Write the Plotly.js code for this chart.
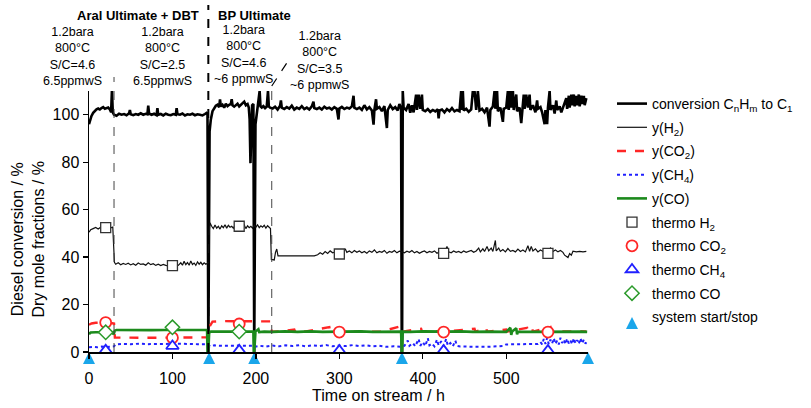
<!DOCTYPE html>
<html><head><meta charset="utf-8">
<script src="https://cdn.plot.ly/plotly-3.0.1.min.js"></script>
<style>body{margin:0;background:#fff}#c{width:811px;height:408px}</style>
</head><body><div id="c"></div>
<script>
// ---- data (time on stream / h, value / %) ----
const conversion = [[0,96],[1,97.5],[3,99.5],[5,100.8],[7,101.8],[9,102.3],[11,102.6],[13,102.2],[15,102.8],[17,103.2],[19,102.5],[21,102.8],[23,103],[25,102.2],[26.5,101],[27.5,110.5],[28.5,101],[30,100],[33,99.6],[36,100.4],[39,100],[42,100.3],[45,99.8],[48,100.6],[49,102],[50,100.2],[53,99.8],[56,100.3],[59,100],[62,100.6],[65,100],[68,100.4],[70,100.2],[71,103.8],[72,100.5],[75,100],[78,100.4],[81,99.8],[82,102.8],[83,100],[86,100.3],[89,99.7],[92,100.4],[95,100],[98,99.8],[101,100.3],[104,100],[105,102.8],[106,100.2],[109,100],[112,100.5],[115,99.7],[118,100.2],[121,100],[124,100.4],[127,99.8],[130,100.2],[133,100],[136,99.7],[139,100.3],[141,100.8],[142,100.5],[142.6,0],
[143,0],[144.5,93],[146,98],[148,101.5],[150,103],[152,103.8],[154,104.2],[156,103.2],[157,106.5],[158,103.5],[160,104.2],[162,103],[164,104.6],[166,103.6],[168,104.2],[170,104.5],[171,106.5],[172,104],[174,103.4],[176,104.2],[178,104.6],[180,103.5],[182,104.2],[184,104.8],[186,105.5],[188,104],[190,104.5],[191.5,103],[192.5,98],[193.5,79.6],[194.5,97],[195.5,104],[197,104.5],[197.6,0],
[198,0],[199.5,96],[201.5,101],[203,104],[204.5,110],[205.5,103.5],[207,103],[209,103.6],[211,102.8],[213,103.4],[214.5,110],[215.5,103.5],[217,103],[220,102.6],[223,103.4],[226,102.2],[229,103.8],[230,106],[231,103],[234,102.4],[237,103.2],[240,102.6],[243,103.8],[246,102.2],[249,103],[252,102.5],[255,103.6],[258,102.4],[261,103],[264,102.2],[267,103.5],[269,105.5],[270,102.8],[273,102.4],[276,103],[279,102.2],[282,103.4],[285,102.6],[288,103],[291,102.2],[294,103.2],[297,102.5],[299,98],[300,102.6],[303,103.3],[306,102.4],[309,103],[312,102.6],[315,103.5],[317,108],[318,103],[321,102.4],[324,103],[327,102],[330,104],[333,102.2],[336,103.2],[339,101.8],[341,95.8],[342,102],[344,106.5],[345,102.5],[348,103.2],[351,101.5],[354,103.6],[357,94.4],[358,102],[361,104],[364,102.4],[367,103.2],[370,101.8],[372,104.5],[374,102.5],[374.8,0],
[375.2,0],[376,110],[377,103],[380,102],[383,104.5],[385,100.8],[387,104],[389,101],[392,108.5],[393,102],[395,108.5],[397,102.5],[399,108.5],[400,102],[403,101.5],[406,102.4],[409,101.2],[412,102],[415,101.4],[418,102.3],[419,98.5],[420,101.8],[423,102.2],[426,101],[429,102.4],[432,101.5],[435,102.8],[438,101.4],[441,102],[444,101.5],[446,110],[447,102],[448,110],[449,101.8],[452,102.5],[455,101.2],[458,102.2],[460,110],[462,110],[464,102],[466,110],[468,101.8],[471,102.5],[474,101],[477,103],[480,95],[481,102],[484,103.5],[486,110],[487,102.5],[489,110],[490,101.5],[493,103],[496,97],[497,102.5],[500,103],[502,110],[503,102],[505,110],[506,103],[508,110],[509,102],[512,108.5],[513,101.5],[516,103],[518,96.5],[519,102],[521,108.5],[522,102.5],[524,108.5],[526,103],[528,108.5],[529,102],[532,104],[535,101],[537,106],[538,102.5],[541,103.2],[543,101],[546,96],[547,102],[549,96],[550,103],[552,110],[553,102],[556,104],[558,100.5],[560,106],[561,102],[564,103.5],[566,101],[569,104],[572,107],[573,102.5],[575,108],[576,103],[578,108.5],[579,104],[581,108.5],[582,103.5],[584,108],[585,104],[587,108.5],[588,103.5],[590,108],[591,104.5],[593,108],[594,104],[596,107]];

const yH2 = [[0,50.5],[2,51.5],[5,52],[8,52.5],[11,51.8],[14,52.6],[17,52.2],[20,52.4],[23,52.8],[26,52.3],[28.5,52.6],[29.5,45],[30.5,37.8],[32,37],[35,37.6],[38,36.8],[41,37.3],[44,36.9],[47,37.4],[50,36.7],[53,37.2],[56,36.6],[59,37.5],[62,36.9],[65,37.1],[68,36.6],[71,37.6],[74,36.8],[77,37.2],[80,36.5],[83,37],[86,36.4],[89,36.9],[92,36.5],[95,36.3],[98,36.6],[101,36.4],[104,36.9],[107,36.5],[110,37.6],[112,36.6],[114,38.2],[116,36.8],[118,37.7],[120,36.6],[122,38.4],[124,36.9],[126,37.5],[128,36.5],[130,38],[132,37],[134,37.8],[136,36.8],[138,37.6],[140,37],[142,37.4],[143,38],[144,50],[145,54.5],[147,53],[149,52],[151,53.5],[153,52.2],[155,53],[157,51.8],[159,53.2],[161,52.4],[163,53.6],[165,52.2],[167,53.4],[169,52.6],[171,53],[173,52.2],[175,53.4],[177,52.8],[180,53],[183,52.4],[186,53.6],[188,52],[190,53.2],[192,52.4],[194,53],[196,52.2],[198,53.4],[200,52.6],[202,53.6],[204,52.4],[206,53.2],[208,52.6],[210,53.4],[212,52.2],[214,53.2],[216,52.5],[217.5,52],[218.5,39],[222,38.8],[223.5,42],[225,43.4],[226.5,40.5],[230,40.5],[240,40.6],[250,40.5],[260,40.6],[270,40.5],[274,41],[277,41.8],[280,41.2],[283,42.3],[286,41.5],[289,42.6],[292,41.8],[295,42.2],[298,41.4],[301,42.4],[304,41.8],[307,43.5],[309,42],[312,42.6],[315,41.8],[318,42.8],[321,42],[324,42.6],[327,41.8],[330,42.4],[333,41.6],[336,42.6],[339,42],[342,43],[345,41.8],[348,42.4],[351,42],[354,42.8],[357,41.6],[360,42.4],[363,42],[366,42.8],[369,41.8],[372,42.5],[375,42.2],[378,41.8],[381,42.5],[384,42],[387,42.8],[390,41.8],[393,42.4],[396,41.6],[399,42.2],[402,42.6],[405,41.8],[408,42.4],[411,42],[414,42.6],[417,41.6],[420,42.2],[423,42],[426,41.8],[429,44.5],[431,42.2],[434,41.8],[437,42.6],[440,42],[443,42.4],[446,41.8],[449,42.6],[452,42],[455,42.4],[458,42.8],[461,42],[464,42.6],[467,43.8],[469,42.2],[472,43.5],[474,42.4],[477,44.5],[479,42.6],[482,43.8],[484,42.4],[487,47],[488,42.6],[491,43.8],[493,42.4],[496,43.2],[499,42.2],[502,43.6],[505,42.4],[508,42.8],[511,42.2],[514,43.4],[517,42.4],[520,43],[523,42.2],[526,44.8],[528,42.4],[530,44.5],[532,42.6],[535,43.5],[538,42.2],[541,43],[544,42.4],[547,43.2],[550,42.2],[553,43.8],[556,42.4],[559,43],[562,42.2],[565,42.8],[568,42],[570,40.8],[574,39.8],[576,41.5],[578,40.8],[580,42.5],[584,42.2],[588,42.4],[592,42.2],[596,42.4]];

const yCO2 = [[0,11.5],[3,12],[8,12.3],[14,12.4],[20,12.4],[26,12.2],[30,12],[31,6.1],[40,6],[60,6],[80,6],[100,6],[120,6],[141,6],[143,6.2],[145,11],[148,12.8],[160,13],[175,12.9],[190,13],[205,12.8],[218,12.9],[219,8.6],[230,8.7],[246,9.5],[247,8.6],[260,8.7],[288,10.5],[289,8.6],[320,8.7],[350,8.6],[375,11],[376,8.6],[398,9.8],[399,8.6],[430,8.7],[462,9.8],[463,8.6],[476,10],[477,8.6],[500,9.5],[501,8.6],[525,10.2],[526,8.6],[531,9.8],[532,8.6],[553,10.5],[554,8.6],[575,8.7],[596,8.7]];

const yCH4 = [[0,2],[5,2.2],[10,2],[15,2.3],[20,2.1],[25,2.2],[30,2.4],[32,3.2],[40,3.4],[50,3.3],[60,3.5],[70,3.3],[80,3.5],[90,3.4],[100,3.5],[110,3.3],[120,3.4],[130,3.3],[140,3.4],[143,3.2],[145,2.4],[150,2.8],[160,2.6],[170,2.8],[180,2.7],[190,2.6],[197,2.7],[199,2.2],[205,2.6],[212,2.3],[220,2.7],[228,2.4],[236,2.8],[244,2.5],[252,2.9],[260,2.4],[268,2.8],[276,2.5],[284,2.9],[292,2.4],[300,2.7],[308,2.5],[316,2.9],[324,2.5],[332,2.8],[340,2.4],[348,2.6],[356,2.2],[365,2.4],[373,2.2],[378,2.6],[382,4.8],[384,2.6],[388,3.8],[391,2.4],[395,5.5],[397,2.6],[400,4.2],[403,2.5],[406,5.8],[408,2.8],[411,3.6],[414,2.4],[417,5.2],[419,2.8],[422,4.5],[425,2.5],[428,5.5],[430,2.7],[433,3.8],[436,2.4],[439,4.8],[441,2.6],[445,2.3],[455,2.2],[465,2.4],[475,2.2],[485,2.3],[497,2.6],[500,3.2],[510,3.3],[520,3.1],[530,3.3],[538,3.4],[541,4.2],[543,3.2],[545,5.5],[547,3.4],[549,6],[551,3.3],[553,5.2],[555,3.6],[557,5.8],[559,3.4],[561,4.8],[563,3.2],[565,6],[567,3.8],[569,5.2],[571,3.3],[573,5.6],[575,3.6],[577,4.8],[579,3.3],[581,5.8],[583,3.6],[585,5],[587,3.4],[589,5.8],[591,3.6],[593,5.2],[595,3.5],[597,4.8]];

const yCO = [[0,7.5],[2,8.2],[8,8.3],[15,8.4],[22,8.3],[28,8.3],[29.5,7.4],[31,9],[33,9.3],[45,9.2],[60,9.3],[75,9.2],[90,9.3],[105,9.3],[120,9.2],[135,9.3],[141.5,9.3],[142,0],[143,0],[144,8.2],[146,8.6],[160,8.6],[175,8.5],[190,8.6],[197,8.6],[197.5,0],[198,0],[199.5,8.6],[203,9.6],[204,8.4],[210,8.6],[220,8.5],[235,8.7],[250,8.5],[265,8.7],[280,8.5],[295,8.6],[310,8.5],[325,8.7],[340,8.5],[355,8.6],[374,8.6],[374.8,0],[375.2,0],[376,8.6],[385,8.5],[400,8.7],[415,8.5],[430,8.6],[445,8.7],[460,8.5],[478,8.6],[500,8.5],[505,10.2],[506,7.2],[507,8.6],[512,10],[513,7.4],[514,8.6],[530,8.5],[545,8.6],[560,8.7],[575,8.5],[590,8.6],[597,8.5]];

const thermoT   = [20, 100, 180, 300, 425, 550];
const thermoH2  = [52.4, 36.4, 53.0, 41.3, 41.6, 41.6];
const thermoCO2 = [12.4, 6.0, 11.8, 8.4, 8.4, 8.4];
const thermoCH4 = [0.7, 2.5, 0.7, 0.6, 0.6, 0.6];
const thermoCO  = [8.3, 10.4, 8.6, null, null, null];

const startStopT = [0, 144, 198, 375, 598];
const phaseChangeT = [30, 143, 219];

const xTicks = [0, 100, 200, 300, 400, 500];
const yTicks = [0, 20, 40, 60, 80, 100];

// ---- build ----
const xs = a => a.map(p => p[0]);
const ys = a => a.map(p => p[1]);
const FONT = 'Liberation Sans, Arial, Helvetica, sans-serif';

const traces = [
  {x: xs(conversion), y: ys(conversion), mode: 'lines', name: 'conversion C<sub>n</sub>H<sub>m</sub> to C<sub>1</sub>',
   line: {color: '#000', width: 2.6}, legendgroup: 'g1'},
  {x: xs(yH2), y: ys(yH2), mode: 'lines', name: 'y(H<sub>2</sub>)', line: {color: '#111', width: 1.2}, legendgroup: 'g2'},
  {x: xs(yCO2), y: ys(yCO2), mode: 'lines', name: 'y(CO<sub>2</sub>)', line: {color: '#ff2626', width: 2.4, dash: 'dash'}, legendgroup: 'g3'},
  {x: xs(yCH4), y: ys(yCH4), mode: 'lines', name: 'y(CH<sub>4</sub>)', line: {color: '#2020ff', width: 2, dash: 'dot'}, legendgroup: 'g4'},
  {x: xs(yCO), y: ys(yCO), mode: 'lines', name: 'y(CO)', line: {color: '#1c8a1c', width: 2.6}, legendgroup: 'g5'},
  {x: thermoT, y: thermoH2, mode: 'markers', name: 'thermo H<sub>2</sub>',
   marker: {symbol: 'square', size: 10, color: '#fff', line: {color: '#333', width: 1.3}}, legendgroup: 'g6'},
  {x: thermoT, y: thermoCO2, mode: 'markers', name: 'thermo CO<sub>2</sub>',
   marker: {symbol: 'circle', size: 11, color: '#fff', line: {color: '#ff2626', width: 1.8}}, legendgroup: 'g7'},
  {x: thermoT, y: thermoCH4, mode: 'markers', name: 'thermo CH<sub>4</sub>',
   marker: {symbol: 'triangle-up', size: 11, color: '#fff', line: {color: '#2020ff', width: 1.8}}, legendgroup: 'g8'},
  {x: thermoT, y: thermoCO, mode: 'markers', name: 'thermo CO',
   marker: {symbol: 'diamond', size: 11, color: '#fff', line: {color: '#2a9a2a', width: 1.5}}, legendgroup: 'g9'},
  {x: startStopT, y: startStopT.map(() => 0), mode: 'markers', name: 'system start/stop', cliponaxis: false,
   marker: {symbol: 'arrow-up', size: 12, color: '#1aa6ea', line: {width: 0}}, legendgroup: 'g10'}
];

const W = 811, H = 408, L = 89, R = 223, T = 91, B = 56;
const pw = W - L - R, ph = H - T - B;
const px2x = px => (px - L) / pw;
const px2y = py => (H - B - py) / ph;

const block = lines => lines.join('<br>');
const annotations = [
  {text: '<b>Aral Ultimate + DBT</b>', x: px2x(137.5), y: px2y(15), size: 13},
  {text: '<b>BP Ultimate</b>', x: px2x(254.5), y: px2y(15), size: 13},
  {text: block(['1.2bara', '800°C', 'S/C=4.6', '6.5ppmwS']), x: px2x(72), y: px2y(56.7), size: 12.5},
  {text: block(['1.2bara', '800°C', 'S/C=2.5', '6.5ppmwS']), x: px2x(162.5), y: px2y(56.7), size: 12.5},
  {text: block(['1.2bara', '800°C', 'S/C=4.6', '~6 ppmwS']), x: px2x(243), y: px2y(55), size: 12.5},
  {text: block(['1.2bara', '800°C', 'S/C=3.5', '~6 ppmwS']), x: px2x(319), y: px2y(60.5), size: 12.5}
].map(a => ({text: a.text, x: a.x, y: a.y, xref: 'paper', yref: 'paper', showarrow: false,
  xanchor: 'center', yanchor: 'middle', align: 'center', font: {family: FONT, size: a.size, color: '#000'}}));

const shapes = [
  {type: 'line', xref: 'x', yref: 'paper', x0: phaseChangeT[0], x1: phaseChangeT[0], y0: 0, y1: px2y(77),
   line: {color: '#444', width: 1, dash: 'dash'}},
  {type: 'line', xref: 'x', yref: 'paper', x0: phaseChangeT[1], x1: phaseChangeT[1], y0: 0, y1: px2y(5),
   line: {color: '#000', width: 2, dash: 'dash'}},
  {type: 'line', xref: 'x', yref: 'paper', x0: phaseChangeT[2], x1: phaseChangeT[2], y0: 0, y1: px2y(86),
   line: {color: '#444', width: 1, dash: 'dash'}},
  {type: 'line', xref: 'x', yref: 'paper', x0: phaseChangeT[2], x1: phaseChangeT[2] + 22, y0: px2y(86), y1: px2y(58),
   line: {color: '#000', width: 1.2, dash: 'dash'}}
];

const ZW = '\u200b';
const nb = n => '\u00a0'.repeat(n);
const layout = {
  width: W, height: H,
  margin: {l: L, r: R, t: T, b: B, pad: 0},
  paper_bgcolor: '#fff', plot_bgcolor: '#fff',
  font: {family: FONT, size: 16, color: '#000'},
  showlegend: true,
  legend: {x: px2x(612), xanchor: 'left', y: px2y(88), yanchor: 'top', maxheight: 380,
    font: {family: FONT, size: 14, color: '#000'}, tracegroupgap: 2.5, bgcolor: 'rgba(0,0,0,0)'},
  xaxis: {range: [0, 598], tickvals: xTicks, ticks: 'outside', ticklen: 5, tickwidth: 1.3, tickcolor: '#000',
    showline: true, linecolor: '#000', linewidth: 1.5, showgrid: false, zeroline: false,
    ticklabelstandoff: 6, tickfont: {size: 16},
    title: {text: ZW + nb(18) + 'Time on stream / h', font: {size: 16}, standoff: 4}},
  yaxis: {range: [0, 110], tickvals: yTicks, ticks: 'outside', ticklen: 5, tickwidth: 1.3, tickcolor: '#000',
    showline: true, linecolor: '#000', linewidth: 1.5, showgrid: false, zeroline: false,
    tickfont: {size: 16},
    title: {text: 'Diesel conversion / %' + nb(8) + ZW + '<br>Dry mole fractions / %' + nb(8) + ZW, font: {size: 16}, standoff: 4}},
  annotations: annotations,
  shapes: shapes
};

Plotly.newPlot('c', traces, layout, {displayModeBar: false, staticPlot: true});
</script></body></html>
